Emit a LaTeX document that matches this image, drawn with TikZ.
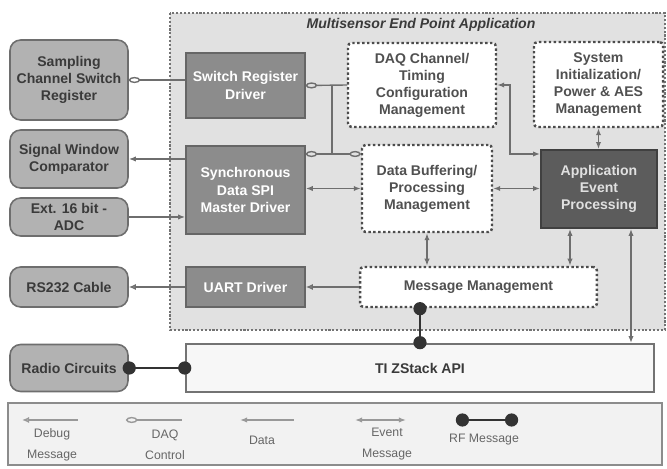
\documentclass[tikz,border=0pt]{standalone}
\usepackage{fontspec}
\setmainfont{Liberation Sans}
\usetikzlibrary{arrows.meta}
\definecolor{panelgray}{HTML}{E1E1E1}
\definecolor{extgray}{HTML}{B2B2B2}
\definecolor{drvgray}{HTML}{8C8C8C}
\definecolor{appgray}{HTML}{5C5C5C}
\definecolor{linegray}{HTML}{6E6E6E}
\definecolor{darktext}{HTML}{3A3A3A}
\definecolor{mgmtext}{HTML}{505050}

\begin{document}
\begin{tikzpicture}[x=0.02cm,y=-0.02cm,
  every node/.style={font=\fontsize{8}{9.7}\selectfont\bfseries, align=center, inner sep=0pt},
  extbox/.style={draw=linegray, fill=extgray, rounded corners=6pt, text=darktext, line width=0.9pt, minimum width=2.36cm},
  drvbox/.style={draw=black!60, fill=drvgray, text=white, line width=0.9pt, minimum width=2.38cm},
  mgmbox/.style={draw=black!70, fill=white, line width=1.4pt, dash pattern=on 1.4pt off 1.4pt, rounded corners=2pt, text=mgmtext},
  conn/.style={draw=linegray, line width=0.8pt},
  dbg/.style={conn, {Latex[open,length=4pt,width=3.5pt]}-},
  daqc/.style={conn, {Ellipse[open,length=6.5pt,width=3.5pt]}-},
  daqb/.style={conn, {Ellipse[open,length=6.5pt,width=3.5pt]}-{Ellipse[open,length=6.5pt,width=3.5pt]}},
  dat/.style={conn, {Latex[length=4pt,width=3pt]}-},
  evt/.style={conn, {Latex[length=4pt,width=3pt]}-{Latex[length=4pt,width=3pt]}},
  rf/.style={draw=black!80, line width=0.9pt, shorten <=-3.5pt, shorten >=-3.5pt, {Circle[length=7.5pt]}-{Circle[length=7.5pt]}},
  leglabel/.style={font=\fontsize{7}{12}\selectfont, text=black!60},
]
\useasboundingbox (0,0) rectangle (667,469);
\draw[fill=panelgray, draw=black!55, line width=1.2pt, dash pattern=on 1.2pt off 1pt] (170,13) rectangle (665,330);
\node[text=darktext] (title) at (421,25) {\itshape Multisensor End Point Application};

\node[extbox, minimum height=1.6cm] (samp) at (69,80) {Sampling\\Channel Switch\\Register};
\node[extbox, minimum height=1.16cm] (comp) at (69,159) {Signal Window\\Comparator};
\node[extbox, minimum height=0.76cm] (adc) at (69,217) {Ext. 16 bit -\\ADC};
\node[extbox, minimum height=0.8cm] (rs) at (69,287) {RS232 Cable};
\node[extbox, minimum height=0.94cm] (radio) at (69,368) {Radio Circuits};

\node[drvbox, minimum height=1.3cm] (swd) at (245.5,85.5) {Switch Register\\Driver};
\node[drvbox, minimum height=1.76cm] (spi) at (245.5,190) {Synchronous\\Data SPI\\Master Driver};
\node[drvbox, minimum height=0.8cm] (uart) at (245.5,287) {UART Driver};

\node[mgmbox, minimum width=2.96cm, minimum height=1.68cm] (daq) at (422,85) {DAQ Channel/\\Timing\\Configuration\\Management};
\node[mgmbox, minimum width=2.58cm, minimum height=1.7cm] (sys) at (598.5,84.5) {System\\Initialization/\\Power \& AES\\Management};
\node[mgmbox, minimum width=2.6cm, minimum height=1.74cm] (buf) at (427,188.5) {Data Buffering/\\Processing\\Management};
\node[draw=black!75, fill=appgray, text=black!12, line width=1pt, minimum width=2.32cm, minimum height=1.56cm] (app) at (599,189) {Application\\Event\\Processing};
\node[mgmbox, minimum width=4.74cm, minimum height=0.8cm] (msg) at (478.5,287) {Message Management};
\node[draw=black!55, fill=black!3, text=darktext, line width=1pt, minimum width=9.36cm, minimum height=0.96cm] (api) at (420,368) {TI ZStack API};

\coordinate (j1) at (332,85);
\coordinate (j2) at (332,154);
\coordinate (j3) at (510,154);

\draw[daqc] (samp.east) -- (samp.east -| swd.west);
\draw[daqc] (swd.east) -- (daq.west);
\draw[conn] (j1) -- (j2);
\draw[daqb] (spi.east |- j2) -- (buf.west |- j2);
\draw[dat] (comp.east) -- (comp.east -| spi.west);
\draw[dat] (spi.west |- adc.east) -- (adc.east);
\draw[dbg] (rs.east) -- (uart.west);
\draw[dbg] (uart.east) -- (msg.west);
\draw[evt] (spi.east |- buf.west) -- (buf.west);
\draw[evt] (buf.east) -- (buf.east -| app.west);
\draw[evt] (daq.east) -| (j3) -- (j3 -| app.west);
\draw[evt] (sys.south) -- (sys.south |- app.north);
\draw[evt] (buf.south) -- (buf.south |- msg.north);
\draw[evt] (app.south -| 570,0) -- (msg.north -| 570,0);
\draw[evt] (app.south -| 631,0) -- (api.north -| 631,0);
\draw[rf] (msg.south -| 420,0) -- (api.north -| 420,0);
\draw[rf] (radio.east) -- (api.west);

\draw[fill=black!5, draw=black!45, line width=1.2pt] (8,403) rectangle (662,465);
\coordinate (l1a) at (22,420); \coordinate (l1b) at (78,420);
\coordinate (l2a) at (126,420); \coordinate (l2b) at (182,420);
\coordinate (l3a) at (240,420); \coordinate (l3b) at (294,420);
\coordinate (l4a) at (355,420); \coordinate (l4b) at (406,420);
\coordinate (l5a) at (462,420); \coordinate (l5b) at (512,420);
\draw[dbg, draw=black!40] (l1a) -- (l1b);
\draw[daqc, draw=black!40] (l2a) -- (l2b);
\draw[dat, draw=black!40] (l3a) -- (l3b);
\draw[evt, draw=black!40] (l4a) -- (l4b);
\draw[rf] (l5a) -- (l5b);
\node[leglabel] (lg1) at (52,445) {Debug\\Message};
\node[leglabel] (lg2) at (165,445) {DAQ\\Control};
\node[leglabel] (lg3) at (262,440) {Data};
\node[leglabel] (lg4) at (387,444) {Event\\Message};
\node[leglabel] (lg5) at (484,440) {RF Message};
\end{tikzpicture}
\end{document}
